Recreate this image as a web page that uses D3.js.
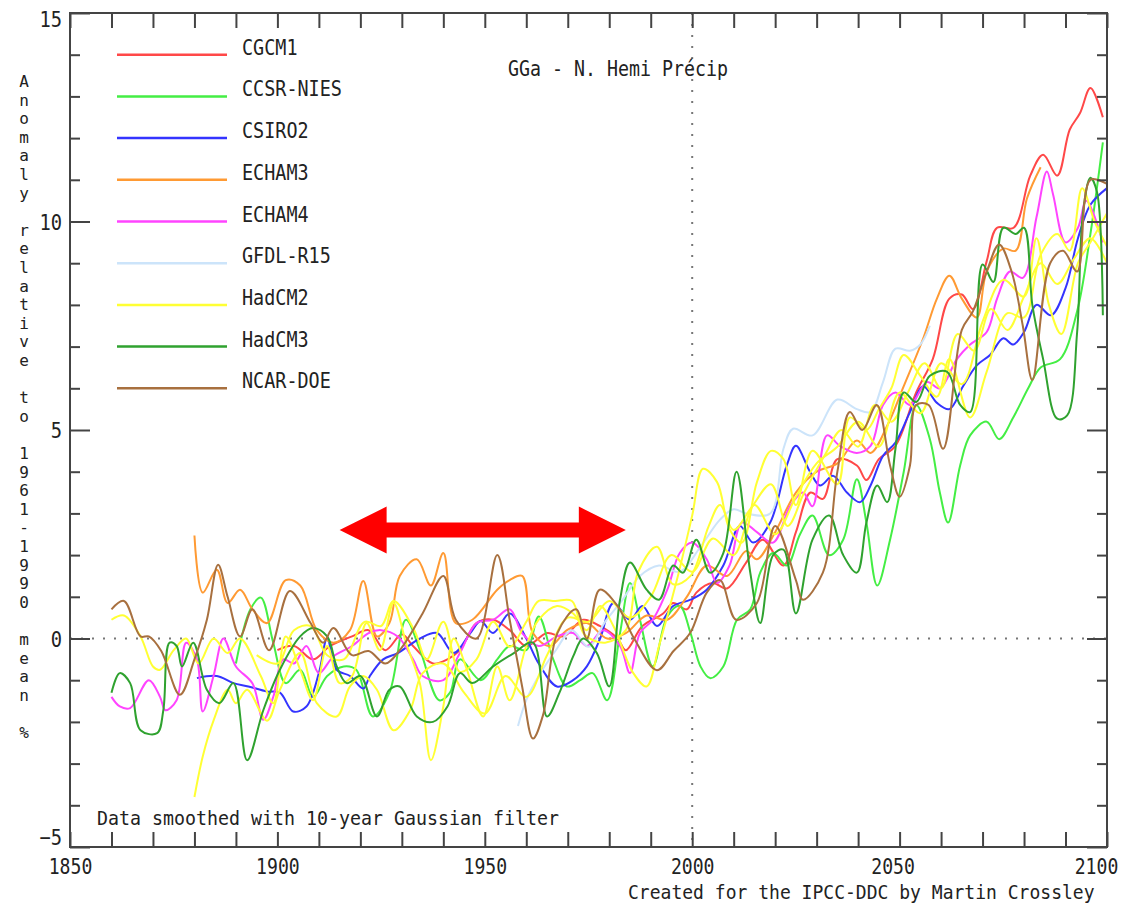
<!DOCTYPE html>
<html>

<head>
  <meta charset="utf-8">
  <title>GGa - N. Hemi Precip</title>
  <script type="text/javascript" src="https://cdn.jsdelivr.net/npm/d3@7"></script>
  <style type="text/css">
    body { margin: 0; background: #fff; }
    text { font-family: "DejaVu Sans Mono", "Liberation Mono", monospace; fill: #222; }
  </style>
</head>

<body>
  <script type="text/javascript">

    // Model names, in legend order
    const models = ["CGCM1", "CCSR-NIES", "CSIRO2", "ECHAM3", "ECHAM4", "GFDL-R15", "HadCM2", "HadCM3", "NCAR-DOE"];

    // Each series: [year, anomaly %]
    const cgcm1 = [[1900,-0.28],[1904,-0.18],[1908.6,-0.5],[1912.7,-0.18],[1918,0.05],[1922,0.2],[1926,-0.28],[1930,0.1],[1932.7,-0.18],[1937.5,-0.6],[1941,-0.5],[1944,-0.28],[1948,0.37],[1952,0.45],[1956,0.2],[1960,-0.18],[1965,0.13],[1969,0.05],[1973.7,0.45],[1977.7,0.3],[1982,0],[1984,-0.28],[1988,0.3],[1993,0.6],[1995.4,0.85],[1998.7,0.7],[2001,1.1],[2005,1.33],[2008.4,1.2],[2013,1.82],[2017,2.37],[2022,1.75],[2025,2.55],[2028.5,3.5],[2031.5,3.35],[2035,4.3],[2039.7,4.15],[2042,3.8],[2045,4.3],[2049,4.62],[2054,5.9],[2058,6.7],[2062,8.15],[2065,8.25],[2067.7,7.9],[2071,9.05],[2073.5,9.85],[2077.5,9.85],[2081.5,11.1],[2084.6,11.6],[2088,11.1],[2091,12.2],[2093.5,12.6],[2096,13.2],[2099,12.5]];

    const ccsrNies = [[1890,-0.6],[1893.5,0.7],[1896,0.98],[1899,-0.1],[1902,-1.07],[1905.5,-0.75],[1908.6,-1.4],[1912,-0.9],[1916,-0.67],[1919,-0.75],[1923,-1.87],[1927,-1.3],[1931,0.45],[1934.4,-0.28],[1939,-1.48],[1941.6,-1.3],[1944,-0.5],[1949,-1.0],[1953,-0.5],[1956,-0.18],[1960,-0.28],[1963,0.53],[1966.5,-0.5],[1969.8,-1.15],[1973,-1.0],[1976,-0.83],[1979.5,-1.48],[1982.6,0.13],[1985,1.33],[1987.4,0.45],[1990.5,-0.67],[1994,0.53],[1997,0.78],[1999.6,0.13],[2002,-0.67],[2004.3,-0.95],[2007.5,-0.67],[2010.8,0.45],[2014,0.7],[2016.4,1.58],[2019.5,2.05],[2022.8,1.75],[2026,2.5],[2029,2.95],[2033,2.0],[2036.4,2.37],[2039.7,3.82],[2042,2.78],[2044.6,1.27],[2047.7,2.37],[2051,4.0],[2054,5.6],[2057.3,4.78],[2059.7,3.5],[2061.7,2.78],[2064.6,4.15],[2067,4.87],[2071,5.2],[2074,4.78],[2077.4,5.3],[2081,6.0],[2084,6.5],[2088.7,6.7],[2092.8,7.85],[2096,9.7],[2099,11.9]];

    const csiro2 = [[1880.6,-0.95],[1885.4,-0.9],[1889.4,-1.07],[1893,-1.15],[1897.5,-1.27],[1900.6,-1.3],[1903.8,-1.75],[1907,-1.63],[1910,-0.83],[1912,0],[1914.3,-0.75],[1917.5,-0.9],[1920.7,-1.2],[1922.3,-0.9],[1925.5,-0.5],[1929,-0.35],[1934.4,0],[1938.5,0.13],[1942.5,-0.35],[1946.5,0.13],[1949,0.42],[1952,0.13],[1956,0.6],[1960,0],[1963,-0.6],[1967.4,-1.15],[1971.3,-1.0],[1974.6,-0.67],[1977.8,0],[1981,0.85],[1985,0.45],[1988,0.78],[1991.5,0.3],[1995.4,0.78],[1999.6,0.93],[2003.5,1.17],[2007.5,1.75],[2011.5,2.7],[2014.7,2.3],[2018.8,2.78],[2022.8,4.15],[2025,4.62],[2028.4,4.0],[2030.8,3.67],[2034,3.9],[2037.3,3.5],[2040.5,3.27],[2043,3.67],[2046,4.38],[2049,4.7],[2052.5,5.43],[2055.7,6.05],[2059,5.65],[2062,5.5],[2065.3,6.05],[2068.6,6.55],[2071.8,6.8],[2075,7.2],[2077.4,7.05],[2080,7.35],[2083,8.0],[2086.5,7.75],[2090,8.4],[2093,9.6],[2096,10.4],[2100,10.8]];

    const echam3 = [[1880,2.47],[1882,1.1],[1885.4,1.65],[1888,0.85],[1891,1.17],[1894,0.7],[1897.5,0.37],[1902,1.4],[1905.5,1.27],[1909.5,0.2],[1913.5,-0.1],[1917.5,0.2],[1920.7,1.38],[1924,0.05],[1927,0.37],[1929.5,1.5],[1933.6,1.9],[1937,1.27],[1940,2.05],[1943,0.37],[1947,0.45],[1953,1.17],[1956,1.4],[1959,1.5],[1961.6,0.13],[1965.7,-0.18],[1969.8,0.2],[1974.6,0.37],[1979.5,0],[1984,0.13],[1989,0.55],[1994,0.45],[1998.7,1.0],[2003.5,1.75],[2008.4,1.5],[2013,2.1],[2015.6,1.9],[2020,2.55],[2025,3.5],[2030,4.0],[2035,4.2],[2039.7,4.75],[2043,4.45],[2047,5.1],[2051,6.05],[2055.7,7.2],[2059,8.15],[2062,8.7],[2065,8.15],[2068.6,7.7],[2071,8.8],[2075,9.35],[2078,9.3],[2080.7,10.55],[2084,11.3]];

    const echam4 = [[1860,-1.4],[1862,-1.63],[1864.5,-1.67],[1869,-1.0],[1871.7,-1.4],[1873,-1.72],[1875.7,-1.48],[1878,-0.1],[1880.6,-0.5],[1882,-1.75],[1884.6,-0.9],[1887,0],[1890,-0.67],[1894,-1.08],[1896.6,-1.95],[1899,-1.4],[1901.4,-0.5],[1904,-0.6],[1907,-0.18],[1910,-0.83],[1913.5,-0.43],[1918,-0.18],[1922,0.13],[1925,0.2],[1929,0.05],[1932.7,-0.5],[1935,-0.9],[1940,-1.0],[1944,-0.35],[1948,0.37],[1952,0.45],[1956,0.7],[1959,0.13],[1963,-0.18],[1967.4,0.05],[1971.3,0.13],[1974.6,-0.18],[1978.5,0.2],[1982.6,-0.18],[1985,-0.83],[1987.4,0.13],[1990.5,0.45],[1994,1.17],[1997,2.05],[2000,2.3],[2003.5,1.9],[2006,1.33],[2009,1.75],[2012,2.78],[2015.6,2.55],[2019.5,2.3],[2023.6,3.17],[2026.7,3.5],[2029,3.17],[2032.5,4.87],[2035.6,4.62],[2039.7,4.45],[2043,4.62],[2046,5.6],[2049,5.9],[2052.5,5.6],[2056.6,6.15],[2059.7,6.0],[2063.8,6.7],[2067,7.05],[2071,7.35],[2073.5,8.15],[2076.6,8.8],[2079.7,8.65],[2083,10.1],[2085.5,11.2],[2087,10.65],[2090,9.5],[2093,9.85],[2095,10.5],[2099,9.5]];

    const gfdlR15 = [[1958,-2.1],[1960,-1.48],[1963,-0.9],[1967,-0.3],[1971,0.2],[1975,-0.2],[1979,0.4],[1983,0.9],[1987.4,1.5],[1992,1.75],[1997,1.6],[2002,2.2],[2006.7,2.85],[2010,3.1],[2013,3.0],[2018.8,3.0],[2022,4.55],[2024.3,5.03],[2029,4.87],[2035,5.73],[2039.7,5.5],[2043,5.43],[2046,6.15],[2049,6.95],[2052.5,6.9],[2055,7.05],[2057.3,7.5]];

    // HadCM2 has three ensemble members
    const hadcm2a = [[1860,0.45],[1863,0.55],[1867,0.05],[1870,-0.67],[1871.7,-0.75],[1875,-0.28],[1878,0],[1881,-0.6],[1884.6,0],[1888,-0.35],[1891,0],[1896,-0.9],[1899,-1.55],[1902,0.05],[1905.5,-0.75],[1908.6,-1.48],[1912,-0.18],[1915,-1.07],[1918,-0.9],[1921.5,0.37],[1924.7,-0.28],[1928,0.85],[1931,-0.1],[1934.4,-1.1],[1937,-2.92],[1940,-1.63],[1942.5,0],[1945.7,-0.75],[1949.6,-1.87],[1953,-0.67],[1956,-1.48],[1960,-0.18],[1963,0.45],[1967.4,0.78],[1971.3,0.6],[1974.6,0.2],[1977.8,0.78],[1981,0.3],[1985.8,-0.83],[1989,-1.15],[1992,-0.18],[1996.3,1.4],[2000,2.95],[2002.6,4.07],[2006,3.75],[2009,2.62],[2012,2.3],[2015.6,3.75],[2019,4.5],[2022,4.3],[2025,3.2],[2029,4.5],[2035,3.7],[2038,5.3],[2042,5.0],[2045,5.5],[2048,6.0],[2051,6.8],[2055,6.3],[2059,5.8],[2062,6.7],[2067,5.3],[2071,6.4],[2076,7.8],[2080,7.7],[2084,9.2],[2088,9.7],[2091,9.3],[2094,10.8],[2097,10.0],[2100,9.4]];

    const hadcm2b = [[1880,-3.8],[1882,-2.83],[1884.6,-1.97],[1888,-1.23],[1890,-1.55],[1892.7,-1.23],[1897.5,-1.97],[1900.6,-1.23],[1905.5,-0.35],[1909.5,-1.55],[1914.3,-1.87],[1917.5,-1.15],[1920.7,-0.9],[1924,-1.23],[1928,-2.2],[1932,-1.72],[1935,-0.83],[1940,-0.6],[1945,-1.3],[1950,-1.8],[1955,-0.9],[1960,-1.4],[1965,-0.4],[1970,0.5],[1975,0.4],[1980,0.9],[1985,0.5],[1990,1.0],[1995,2.0],[2000,1.6],[2005,2.4],[2010,2.0],[2015,3.2],[2020,2.5],[2025,3.4],[2030,4.2],[2035,4.6],[2040,5.2],[2045,4.6],[2050,5.9],[2055,5.4],[2060,6.6],[2065,6.1],[2070,7.6],[2075,8.6],[2080,8.2],[2083,9.6],[2086,8.0],[2089,7.3],[2093,9.0],[2096,9.5],[2100,10.2]];

    const hadcm2c = [[1895,-0.4],[1900,-0.6],[1904,0.2],[1908,0.3],[1912,-0.4],[1916,-0.5],[1921,0.4],[1925,0.3],[1928,0.9],[1933,0.2],[1936,-0.5],[1940,0.4],[1944,-0.8],[1948,-0.5],[1952,0.4],[1956,-0.2],[1960,0.4],[1963,0.9],[1967,0.9],[1971,0.9],[1974,0.1],[1979,-0.1],[1984,0.2],[1987,1.6],[1991.5,2.2],[1995.4,1.3],[1999.6,1.5],[2004,2.7],[2006.7,3.2],[2010,2.6],[2014,3.1],[2019,3.7],[2023,2.7],[2027,3.5],[2032,4.4],[2036,5.0],[2040,4.6],[2044,5.6],[2048,5.2],[2052,5.9],[2056,6.6],[2060,6.0],[2064,7.3],[2068,6.9],[2072,7.9],[2076,7.4],[2080,8.2],[2084,9.0],[2088,8.5],[2092,9.1],[2096,9.6],[2100,9.0]];

    const hadcm3 = [[1860,-1.3],[1862,-0.83],[1864.5,-1.07],[1867,-2.2],[1871,-2.27],[1872.5,-1.72],[1874,-0.1],[1875.7,-0.18],[1877,-0.67],[1879.7,-0.1],[1883,-1.23],[1886,-1.55],[1889.4,-1.07],[1892.7,-2.92],[1896.6,-1.72],[1900.6,-0.75],[1905.5,0.05],[1908.6,0.25],[1912,0.05],[1914.3,-0.67],[1916.7,-1.07],[1920,-0.9],[1924,-1.87],[1927,-1.23],[1929.5,-1.15],[1933.6,-1.87],[1937.5,-2.0],[1941,-1.63],[1944,-0.83],[1947,-1.07],[1952,-0.67],[1957,-0.35],[1961.6,-0.1],[1965,-1.87],[1968,-1.3],[1971.3,-0.43],[1973.7,0],[1977,-0.35],[1980,-1.15],[1982.6,0.93],[1985,1.82],[1989,1.17],[1992,0.93],[1995.4,1.75],[1997.8,1.58],[2001,2.37],[2004.3,1.58],[2007.5,2.05],[2010.7,4.0],[2014,1.58],[2016.4,0.37],[2019.5,2.0],[2022,2.13],[2025,0.6],[2029,2.37],[2033,2.95],[2036.4,2.0],[2039.7,1.58],[2042,2.78],[2044.6,3.67],[2047,3.27],[2049,4.55],[2051,5.9],[2054,5.67],[2057.3,6.3],[2061.4,6.4],[2064.6,5.6],[2067,5.43],[2070,8.97],[2072.6,8.55],[2075,9.85],[2078,9.7],[2080,9.85],[2082,8.0],[2084.6,6.7],[2088,5.27],[2090.4,5.35],[2092.8,7.35],[2094.2,10.2],[2096,11.05],[2097.6,10.7],[2099,7.75]];

    const ncarDoe = [[1860,0.7],[1863,0.9],[1867,0.05],[1869,0.05],[1872,-0.3],[1876.5,-1.35],[1880,-0.5],[1883,0.45],[1885.7,1.77],[1888,1.0],[1891,0.05],[1894,0.7],[1898,-0.28],[1903,1.14],[1908,0.37],[1911,-0.1],[1913.5,0.25],[1918,-0.4],[1922,-0.3],[1926,-0.6],[1929.5,-0.28],[1935,0.6],[1940,1.5],[1943,0.45],[1948,0],[1953,2.0],[1956,0.45],[1959,-1.15],[1961.6,-2.4],[1964,-1.85],[1967.5,0.13],[1972,0.7],[1974.6,0],[1977.7,1.17],[1982,0.78],[1986,0],[1991.5,-0.76],[1995.5,-0.3],[1999.5,0.13],[2003.5,1.1],[2006.7,1.4],[2010.6,0.45],[2015.6,0.85],[2020,2.7],[2025,1.4],[2026.7,0.93],[2031.5,1.58],[2035,4.0],[2038,5.43],[2041,5.0],[2044.5,5.6],[2047.7,4.15],[2050,3.4],[2052.5,4.15],[2054,5.6],[2057,5.6],[2060.5,4.55],[2065,7.4],[2067.7,7.85],[2071,8.8],[2074,9.45],[2077,8.8],[2079.7,7.5],[2082,6.2],[2086.3,9.0],[2089.4,9.3],[2092.8,8.8],[2096,11.0],[2100,10.9]];

    // Axis ticks and labels
    const xLabels = [1850, 1900, 1950, 2000, 2050, 2100];
    const yLabels = [-5, 0, 5, 10, 15];

    // Annotation arrow: years spanned and level (%)
    const arrowYears = [1915, 1984];
    const arrowLevel = 2.6;

    // Colours per model
    const colors = {
      "CGCM1": "#ff4848", "CCSR-NIES": "#44ee44", "CSIRO2": "#3434ff",
      "ECHAM3": "#ff9a33", "ECHAM4": "#ff44ff", "GFDL-R15": "#cce4fa",
      "HadCM2": "#ffff33", "HadCM3": "#2fa22f", "NCAR-DOE": "#a8703f"
    };

    // Lines to draw, in legend order
    const lines = [
      { model: "CGCM1", data: cgcm1 },
      { model: "CCSR-NIES", data: ccsrNies },
      { model: "CSIRO2", data: csiro2 },
      { model: "ECHAM3", data: echam3 },
      { model: "ECHAM4", data: echam4 },
      { model: "GFDL-R15", data: gfdlR15 },
      { model: "HadCM2", data: hadcm2a },
      { model: "HadCM2", data: hadcm2b },
      { model: "HadCM2", data: hadcm2c },
      { model: "HadCM3", data: hadcm3 },
      { model: "NCAR-DOE", data: ncarDoe }
    ];

    const w = 1133;
    const h = 906;

    const x = d3.scaleLinear().domain([1850, 2100]).range([70, 1107]);
    const y = d3.scaleLinear().domain([-5, 15]).range([847, 13]);

    const svg = d3.select("body")
      .append("svg")
      .attr("width", w)
      .attr("height", h);

    // squeeze monospace text to the narrow old-style font width
    function squeeze(sel, charW) {
      sel.attr("textLength", function () { return this.textContent.length * charW; })
        .attr("lengthAdjust", "spacingAndGlyphs");
    }

    svg.append("clipPath").attr("id", "plot")
      .append("rect")
      .attr("x", x(1850)).attr("y", y(15))
      .attr("width", x(2100) - x(1850)).attr("height", y(-5) - y(15));

    // dotted reference lines at 0 and 2000
    svg.append("line")
      .attr("x1", x(1850)).attr("x2", x(2100))
      .attr("y1", y(0)).attr("y2", y(0))
      .attr("stroke", "#777").attr("stroke-width", 2)
      .attr("stroke-dasharray", "2,9");
    svg.append("line")
      .attr("x1", x(2000)).attr("x2", x(2000))
      .attr("y1", y(15)).attr("y2", y(-5))
      .attr("stroke", "#777").attr("stroke-width", 2)
      .attr("stroke-dasharray", "2,9");

    // model curves
    const line = d3.line()
      .x(d => x(d[0]))
      .y(d => y(d[1]))
      .curve(d3.curveCatmullRom.alpha(0.5));

    svg.append("g")
      .attr("clip-path", "url(#plot)")
      .selectAll("path")
      .data(lines)
      .enter()
      .append("path")
      .attr("d", d => line(d.data))
      .attr("fill", "none")
      .attr("stroke", d => colors[d.model])
      .attr("stroke-width", 2)
      .attr("stroke-linejoin", "round");

    // axes: ticks point inwards on all four sides
    const xTicks = d3.range(1850, 2101, 10);
    const yMinor = d3.range(-5, 16).filter(v => v % 5 !== 0);
    // the old plot nudges its end labels inside the page
    const xLabelShift = { 2050: -7, 2100: -11 };

    const bottom = svg.append("g")
      .attr("transform", `translate(0,${y(-5)})`)
      .call(d3.axisBottom(x).tickValues(xTicks).tickSize(-15).tickPadding(11)
        .tickFormat(d => xLabels.includes(d) ? d : ""));
    svg.append("g")
      .attr("transform", `translate(0,${y(15)})`)
      .call(d3.axisTop(x).tickValues(xTicks).tickSize(-15).tickFormat(""));

    const left = svg.append("g")
      .attr("transform", `translate(${x(1850)},0)`)
      .call(d3.axisLeft(y).tickValues(yLabels).tickSize(-20).tickPadding(8));
    svg.append("g")
      .attr("transform", `translate(${x(1850)},0)`)
      .call(d3.axisLeft(y).tickValues(yMinor).tickSize(-10).tickFormat(""));
    svg.append("g")
      .attr("transform", `translate(${x(2100)},0)`)
      .call(d3.axisRight(y).tickValues(yLabels).tickSize(-20).tickFormat(""));
    svg.append("g")
      .attr("transform", `translate(${x(2100)},0)`)
      .call(d3.axisRight(y).tickValues(yMinor).tickSize(-10).tickFormat(""));

    svg.selectAll(".domain").remove();
    svg.selectAll(".tick line").attr("stroke", "#444").attr("stroke-width", 2);
    svg.selectAll(".tick text").attr("font-family", null).attr("fill", "#222");

    bottom.selectAll("text")
      .attr("font-size", 22)
      .attr("dx", d => xLabelShift[d] || 0)
      .call(squeeze, 10.9);
    left.selectAll("text").attr("font-size", 22)
      .attr("dy", d => d === 15 ? "0.6em" : (d === -5 ? "-0.1em" : "0.35em"))
      .call(squeeze, 11.3);

    // frame
    svg.append("rect")
      .attr("x", x(1850)).attr("y", y(15))
      .attr("width", x(2100) - x(1850)).attr("height", y(-5) - y(15))
      .attr("fill", "none").attr("stroke", "#444").attr("stroke-width", 2);

    // legend, one row per model on the unit ticks 14 .. 6
    const legend = svg.append("g");
    models.forEach(function (m, i) {
      const ly = y(14 - i);
      legend.append("line")
        .attr("x1", 117).attr("x2", 227)
        .attr("y1", ly).attr("y2", ly)
        .attr("stroke", colors[m]).attr("stroke-width", 2.5);
      legend.append("text")
        .attr("x", 242).attr("y", ly)
        .attr("font-size", 22)
        .text(m)
        .call(squeeze, 11.1);
    });

    // titles and notes
    svg.append("text")
      .attr("x", 508).attr("y", 76)
      .attr("font-size", 21)
      .text("GGa - N. Hemi Précip")
      .call(squeeze, 11);

    svg.append("text")
      .attr("x", 97).attr("y", 825)
      .attr("font-size", 19)
      .text("Data smoothed with 10-year Gaussian filter")
      .call(squeeze, 11);

    svg.append("text")
      .attr("x", 628).attr("y", 899)
      .attr("font-size", 19)
      .text("Created for the IPCC-DDC by Martin Crossley")
      .call(squeeze, 10.85);

    // vertical axis title, one upright character per row
    const yTitle = "Anomaly relative to 1961-1990 mean %";
    svg.append("g")
      .selectAll("text")
      .data(yTitle.split(""))
      .enter()
      .append("text")
      .attr("x", 24)
      .attr("y", (d, i) => 87 + i * 18.6)
      .attr("text-anchor", "middle")
      .attr("font-size", 16)
      .text(d => d);

    // red double-headed arrow
    const ax0 = x(arrowYears[0]);
    const ax1 = x(arrowYears[1]);
    const ay = y(arrowLevel);
    const headL = 47, headH = 23.5, shaft = 7.5;
    const arrowPts = [
      [ax0, ay], [ax0 + headL, ay - headH], [ax0 + headL, ay - shaft],
      [ax1 - headL, ay - shaft], [ax1 - headL, ay - headH], [ax1, ay],
      [ax1 - headL, ay + headH], [ax1 - headL, ay + shaft],
      [ax0 + headL, ay + shaft], [ax0 + headL, ay + headH]
    ];
    svg.append("path")
      .attr("d", d3.line()(arrowPts) + "Z")
      .attr("fill", "#ff0000");

  </script>
</body>

</html>
